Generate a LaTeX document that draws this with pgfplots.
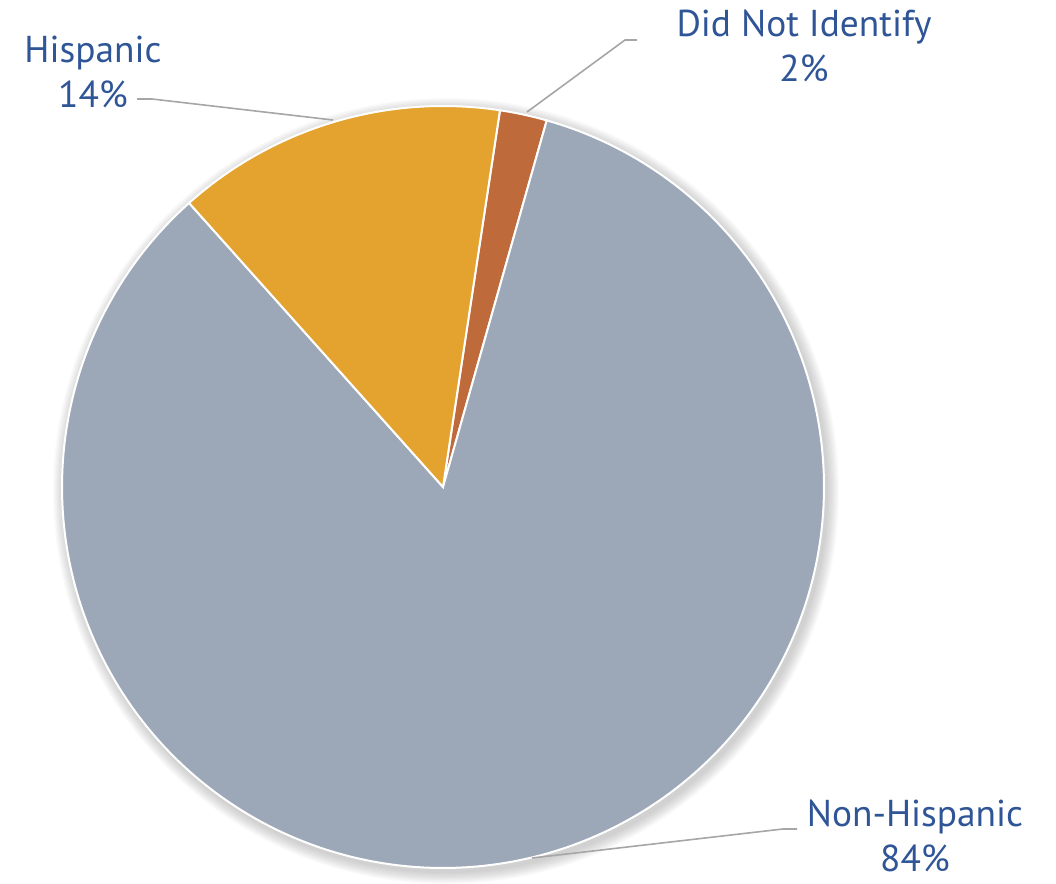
\documentclass[border=0pt]{standalone}
\usepackage{pgfplots}
\pgfplotsset{compat=1.18}
\usepackage{pgfplotstable}
\usepackage{fontspec}
\setmainfont{PT Sans}
\definecolor{cNon}{HTML}{9CA8B7}
\definecolor{cHis}{HTML}{E4A22E}
\definecolor{cDni}{HTML}{BF6A3A}
\definecolor{cTxt}{HTML}{2F5597}
\definecolor{cLead}{HTML}{A6A6A6}
\tikzset{lbl/.style={font=\fontsize{18.7}{22.5}\selectfont, text=cTxt, inner sep=0pt, anchor=base}}

\pgfplotstableread{
name value
DidNotIdentify 2
NonHispanic 84
Hispanic 14
}\piedata

\begin{document}%
\begin{tikzpicture}
\pgfplotstablegetelem{0}{value}\of\piedata \pgfmathsetmacro\vA{\pgfplotsretval}
\pgfplotstablegetelem{1}{value}\of\piedata \pgfmathsetmacro\vB{\pgfplotsretval}
\pgfplotstablegetelem{2}{value}\of\piedata \pgfmathsetmacro\vC{\pgfplotsretval}
\pgfmathsetmacro\aS{81.4}
\pgfmathsetmacro\aA{\aS-3.6*\vA}
\pgfmathsetmacro\aB{\aA-3.6*\vB}
\pgfmathsetmacro\aC{\aB-3.6*\vC}
\begin{axis}[
  scale only axis, width=528pt, height=439.5pt,
  xmin=0, xmax=1056, ymin=0, ymax=879,
  hide axis, clip=false,
]
\path (axis cs:0,0) rectangle (axis cs:1056,879);
% soft shadow
\pgfplotsinvokeforeach{1,...,10}{
  \fill[black, opacity=0.018] (axis cs:446,388) circle[radius={(381+#1*1.2)*0.5pt}];
}
% wedges
\addplot[fill=cDni, draw=white, line width=1pt, domain=\aA:\aS, samples=20, variable=\t]
  ({443+381*cos(\t)},{392+381*sin(\t)}) -- (axis cs:443,392) -- cycle;
\addplot[fill=cNon, draw=white, line width=1pt, domain=\aB:\aA, samples=240, variable=\t]
  ({443+381*cos(\t)},{392+381*sin(\t)}) -- (axis cs:443,392) -- cycle;
\addplot[fill=cHis, draw=white, line width=1pt, domain=\aC:\aB, samples=60, variable=\t]
  ({443+381*cos(\t)},{392+381*sin(\t)}) -- (axis cs:443,392) -- cycle;
% leader lines
\addplot[cLead, line width=0.8pt] coordinates {(137,780) (152,780) (333,759)};
\addplot[cLead, line width=0.8pt] coordinates {(637,839) (625,839) (527,767)};
\addplot[cLead, line width=0.8pt] coordinates {(797,50) (783,50) (532,21)};
% labels
\node[lbl] at (axis cs:93,816) {Hispanic};
\node[lbl] at (axis cs:93,771) {14\%};
\node[lbl] at (axis cs:804,842) {Did Not Identify};
\node[lbl] at (axis cs:804,797) {2\%};
\node[lbl] at (axis cs:915,52) {Non-Hispanic};
\node[lbl] at (axis cs:915,7) {84\%};
\end{axis}
\end{tikzpicture}%
\end{document}
